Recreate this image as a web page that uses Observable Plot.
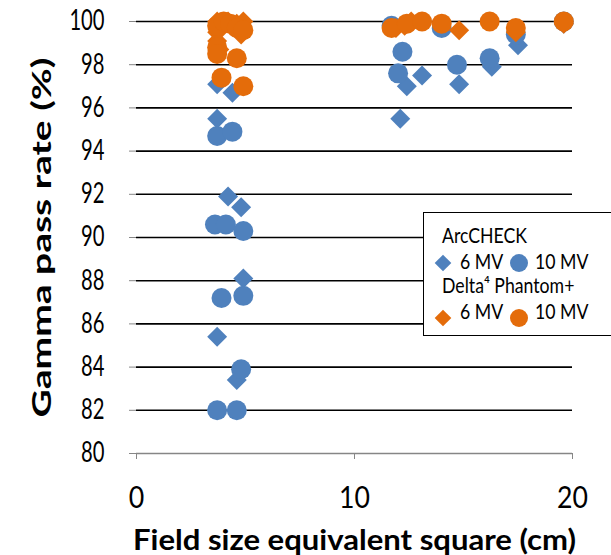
<!DOCTYPE html>
<html>
<head>
<meta charset="utf-8">
<script src="https://cdn.jsdelivr.net/npm/d3@7"></script>
<script src="https://cdn.jsdelivr.net/npm/@observablehq/plot@0.6"></script>
<style>
  html, body { margin: 0; padding: 0; background: #fff; }
  #chart { width: 611px; height: 555px; }
</style>
</head>
<body>
<div id="chart"></div>
<script>
// ---- Data ----
const arc6X  = [3.7, 4.4, 3.7, 4.2, 4.8, 4.9, 3.7, 4.6, 12.1, 12.4, 13.1, 14.8, 16.3, 17.5, 19.6];
const arc6Y  = [97.1, 96.7, 95.5, 91.9, 91.4, 88.1, 85.4, 83.4, 95.5, 97.0, 97.5, 97.1, 97.9, 98.9, 99.9];

const arc10X = [3.7, 4.4, 3.6, 4.1, 4.9, 3.9, 4.9, 4.8, 3.7, 4.6, 12.2, 12.0, 14.7, 16.2, 17.4, 19.6, 14.0, 11.7];
const arc10Y = [94.7, 94.9, 90.6, 90.6, 90.3, 87.2, 87.3, 83.9, 82.0, 82.0, 98.6, 97.6, 98.0, 98.3, 99.4, 100.0, 99.7, 99.8];

const d6X  = [3.7, 3.7, 3.7, 4.2, 4.6, 4.9, 4.8, 3.8, 11.9, 12.3, 14.8, 17.4, 19.6, 12.6];
const d6Y  = [100.0, 99.5, 99.1, 100.0, 99.9, 100.0, 99.4, 98.7, 99.7, 99.8, 99.6, 99.5, 99.9, 100.0];

const d10X = [3.7, 4.0, 4.3, 4.6, 4.9, 3.7, 3.7, 4.6, 3.9, 4.9, 11.7, 12.4, 13.1, 14.0, 16.2, 17.4, 19.6];
const d10Y = [99.8, 100.0, 99.9, 99.7, 99.6, 98.8, 98.5, 98.3, 97.4, 97.0, 99.7, 99.9, 100.0, 99.9, 100.0, 99.7, 100.0];

const xTicks = [0, 10, 20];
const yTicks = [80, 82, 84, 86, 88, 90, 92, 94, 96, 98, 100];
const gridValues = [82, 84, 86, 88, 90, 92, 94, 96, 98, 100];

const xTitle = "Field size equivalent square (cm)";
const yTitle = "Gamma pass rate (%)";
const legendDevice1 = "ArcCHECK";
const legendDevice2 = "Delta\u2074 Phantom+";
const legendEnergies = ["6 MV", "10 MV"];

const blue = "#4f81bd";
const orange = "#e46c0a";
const FONT = "Lato, 'Open Sans', sans-serif";

const zip = (xs, ys) => xs.map((x, i) => ({x, y: ys[i]}));

const plot = Plot.plot({
  width: 611,
  height: 555,
  marginLeft: 136,
  marginRight: 39,
  marginTop: 21,
  marginBottom: 102,
  style: {fontFamily: FONT, fontSize: "21px", color: "#000", background: "#fff"},
  x: {domain: [0, 20], ticks: xTicks},
  y: {domain: [80, 100], ticks: yTicks},
  marks: [
    Plot.ruleY(gridValues, {stroke: "#000", strokeWidth: 1.6}),
    Plot.axisY({ticks: yTicks, tickSize: 7, tickPadding: 25, stroke: "#868686", label: null, fontSize: 28}),
    Plot.axisX({ticks: xTicks, tickSize: 6, tickPadding: 26, stroke: "#868686", label: null, fontSize: 31}),
    Plot.ruleY([80], {stroke: "#868686", strokeWidth: 1.5}),
    Plot.dot(zip(arc6X, arc6Y), {x: "x", y: "y", symbol: "diamond2", r: 9, fill: blue, stroke: null}),
    Plot.dot(zip(arc10X, arc10Y), {x: "x", y: "y", symbol: "circle", r: 10, fill: blue, stroke: null}),
    Plot.dot(zip(d6X, d6Y), {x: "x", y: "y", symbol: "diamond2", r: 9, fill: orange, stroke: null}),
    Plot.dot(zip(d10X, d10Y), {x: "x", y: "y", symbol: "circle", r: 10, fill: orange, stroke: null}),
    Plot.text([xTitle], {frameAnchor: "bottom", lineAnchor: "middle", textAnchor: "middle", dy: 88, fontSize: 28, fontWeight: "bold", fill: "#000"}),
    Plot.text([yTitle], {frameAnchor: "left", lineAnchor: "middle", textAnchor: "middle", dx: -94, rotate: -90, fontSize: 27, fontWeight: "bold", fill: "#000"})
  ]
});

document.getElementById("chart").appendChild(plot);

// ---- text width fitting (keeps text as real text) ----
function scaleWidth(sel, factor) {
  sel.each(function () {
    const w = this.getComputedTextLength();
    this.setAttribute("textLength", (w * factor).toFixed(1));
    this.setAttribute("lengthAdjust", "spacingAndGlyphs");
  });
}
function fitWidth(sel, target) {
  sel.each(function () {
    this.setAttribute("textLength", target);
    this.setAttribute("lengthAdjust", "spacingAndGlyphs");
  });
}
const svg = d3.select(plot);
scaleWidth(svg.selectAll('g[aria-label="y-axis tick label"] text'), 0.72);
scaleWidth(svg.selectAll('g[aria-label="x-axis tick label"] text'), 0.86);
svg.selectAll('g[aria-label="text"] text').each(function () {
  const t = this.textContent;
  if (t === xTitle) fitWidth(d3.select(this), 443);
  if (t === yTitle) fitWidth(d3.select(this), 360);
});

// ---- Legend (drawn into the same SVG) ----
const lg = svg.append("g").attr("font-family", FONT).attr("font-size", 21)
  .attr("fill", "#000").attr("text-anchor", "start");
lg.append("rect").attr("x", 423.5).attr("y", 212.5).attr("width", 200).attr("height", 123)
  .attr("fill", "#fff").attr("stroke", "#000").attr("stroke-width", 1);
const diamondPath = d3.symbol(d3.symbolDiamond2, Math.PI * 7.5 * 7.5)();
const circlePath = d3.symbol(d3.symbolCircle, Math.PI * 9 * 9)();
const rows = [
  {label: legendDevice1, ty: 243, sy: 263, ey: 269, color: blue},
  {label: legendDevice2, ty: 293, sy: 318, ey: 319, color: orange}
];
rows.forEach(r => {
  lg.append("text").attr("x", 442).attr("y", r.ty).text(r.label);
  lg.append("path").attr("d", diamondPath).attr("transform", `translate(443,${r.sy})`).attr("fill", r.color);
  lg.append("text").attr("x", 460).attr("y", r.ey).text(legendEnergies[0]);
  lg.append("path").attr("d", circlePath).attr("transform", `translate(519,${r.sy})`).attr("fill", r.color);
  lg.append("text").attr("x", 535).attr("y", r.ey).text(legendEnergies[1]);
});
// match legend text width to the reference ("ArcCHECK" ≈ 85px wide)
const arcNode = lg.selectAll("text").filter(function () { return this.textContent === legendDevice1; }).node();
const legendFactor = 85 / arcNode.getComputedTextLength();
scaleWidth(lg.selectAll("text"), legendFactor);
</script>
</body>
</html>
